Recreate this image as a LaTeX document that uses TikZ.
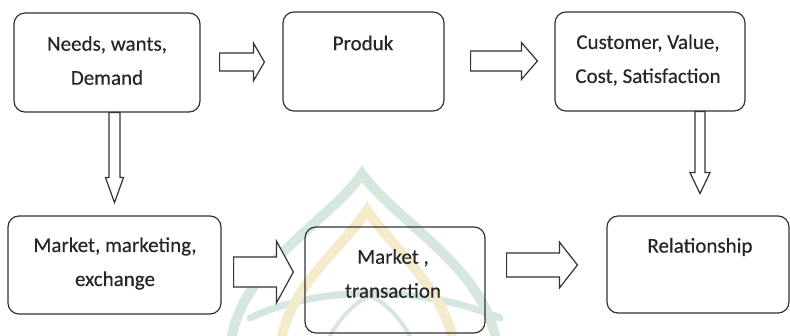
\documentclass[tikz,border=0pt]{standalone}
\usepackage{fontspec}
\setmainfont{Carlito}[FakeBold=0.35]
\usetikzlibrary{calc}

\definecolor{embgreen}{RGB}{214,232,222}
\definecolor{embyellow}{RGB}{244,234,204}

\tikzset{
  box/.style={draw=black!80, line width=1.2pt, rounded corners=11pt, inner sep=0pt},
  txt/.style={text=black!85, align=center, inner sep=0pt,
    font=\fontsize{21}{34}\selectfont},
  blk/.style={draw=black!80, line width=1.2pt, line join=miter, fill=white},
  wmgreen/.style={draw=embgreen, line width=10pt, line cap=round},
  wmyellow/.style={draw=embyellow, line width=10pt, line cap=round},
}

% horizontal block arrow: start, end, shaft half width, head half width, head length
\newcommand\blockH[5]{%
  \draw[blk] let \p1=(#1), \p2=(#2) in
    (\x1,\y1+#3pt) -- (\x2-#5pt,\y1+#3pt) -- (\x2-#5pt,\y1+#4pt) -- (\x2,\y1)
    -- (\x2-#5pt,\y1-#4pt) -- (\x2-#5pt,\y1-#3pt) -- (\x1,\y1-#3pt) -- cycle;}
% vertical (downward) block arrow: start, end, shaft half width, head half width, head length
\newcommand\blockV[5]{%
  \draw[blk] let \p1=(#1), \p2=(#2) in
    (\x1-#3pt,\y1) -- (\x1-#3pt,\y2+#5pt) -- (\x1-#4pt,\y2+#5pt) -- (\x1,\y2)
    -- (\x1+#4pt,\y2+#5pt) -- (\x1+#3pt,\y2+#5pt) -- (\x1+#3pt,\y1) -- cycle;}

\begin{document}
\begin{tikzpicture}[x=1pt,y=-1pt]
\useasboundingbox (0,0) rectangle (790,336);

% faint background emblem
\draw[wmgreen] (232,336) .. controls (245,265) and (330,220) .. (362,174)
               .. controls (395,220) and (480,265) .. (495,336);
\draw[wmgreen, line width=7pt] (250,318) .. controls (320,285) and (420,285) .. (500,318);
\draw[wmgreen, line width=4pt] (330,336) .. controls (345,310) and (360,300) .. (370,296)
                               .. controls (380,300) and (395,310) .. (410,336);
\draw[wmyellow] (282,336) .. controls (292,285) and (345,245) .. (367,210)
                .. controls (390,245) and (440,285) .. (452,336);

% boxes
\node[box, minimum width=186, minimum height=99] (n1) at (107,62.5) {};
\node[box, minimum width=161, minimum height=99] (n2) at (363.5,61.5) {};
\node[box, minimum width=190, minimum height=99] (n3) at (650,61.5) {};
\node[box, minimum width=213, minimum height=98] (n4) at (114.5,265) {};
\node[box, minimum width=180, minimum height=106] (n5) at (395,280) {};
\node[box, minimum width=182, minimum height=97] (n6) at (698,264.5) {};

% labels
\node[txt] (t1) at (107,60.5) {Needs, wants,\\Demand};
\node[txt] (t2) at (363,43) {Produk};
\node[txt] (t3) at (648,60) {Customer, Value,\\Cost, Satisfaction};
\node[txt] (t4) at (115,263.5) {Market, marketing,\\exchange};
\node[txt] (t5) at (393,273.5) {Market ,\\transaction};
\node[txt] (t6) at (700,247) {Relationship};

% arrow end points
\coordinate (a1s) at ([xshift=19pt,yshift=0.5pt]n1.east);
\coordinate (a1e) at ([xshift=-18pt,yshift=1.5pt]n2.west);
\coordinate (a2s) at ([xshift=26pt,yshift=0.5pt]n2.east);
\coordinate (a2e) at ([xshift=-17pt,yshift=0.5pt]n3.west);
\coordinate (a3s) at ([xshift=7.5pt]n1.south);
\coordinate (a3e) at ([xshift=7.5pt,yshift=-90pt]n1.south);
\coordinate (a4s) at ([xshift=50pt]n3.south);
\coordinate (a4e) at ([xshift=50pt,yshift=-82pt]n3.south);
\coordinate (a5s) at ([xshift=12pt,yshift=-7pt]n4.east);
\coordinate (a5e) at ([xshift=-11pt,yshift=-8pt]n5.west);
\coordinate (a6s) at ([xshift=21pt,yshift=15pt]n5.east);
\coordinate (a6e) at ([xshift=-29pt,yshift=-0.5pt]n6.west);

\blockH{a1s}{a1e}{9}{19}{11}
\blockH{a2s}{a2e}{10}{18.5}{16}
\blockV{a3s}{a3e}{5.5}{9}{25}
\blockV{a4s}{a4e}{5}{10}{21}
\blockH{a5s}{a5e}{15}{31}{17}
\blockH{a6s}{a6e}{12}{23}{18}
\end{tikzpicture}
\end{document}
